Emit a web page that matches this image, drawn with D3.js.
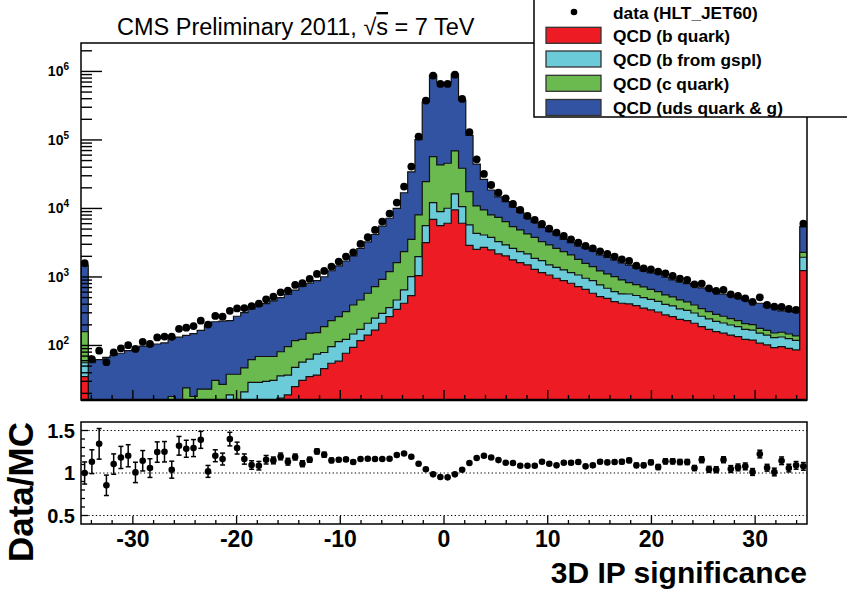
<!DOCTYPE html>
<html><head><meta charset="utf-8">
<script src="https://cdn.jsdelivr.net/npm/d3@7"></script>
<style>
body{margin:0;background:#fff}
svg{display:block}
text{font-family:"Liberation Sans",Arial,Helvetica,sans-serif}
</style>
</head><body>
<svg id="c" width="847" height="596"></svg>
<script>
// ---- binning of the histogram (3D IP significance) ----
const binLow = -35, binWidth = 0.7;

// ---- MC components (stacked), one value per bin ----
const bQuark = [35,
2,2,2,3,3,3,3,4,4,4,5,5,5,6,6,7,7,8,8,9,9,10,11,12,
13,15,17,19,25,31,35,37,46,55,59,77,94,118,142,168,211,264,337,413,534,1047,
3170,6950,5620,6080,9510,6080,
2900,2535,2710,2480,2166,2026,1771,1619,1497,1294,1156,1069,957,884,809,723,661,578,516,488,437,413,
404,381,352,330,308,279,264,241,230,211,188,172,159,151,142,135,123,120,108,102,93,96,91,86,
1236];
const bGspl = [21,
2,2,3,3,3,3,4,4,4,4,5,5,5,5,6,6,6,7,7,10,5,11,18,17,
17,16,19,18,23,26,28,38,33,41,55,46,53,54,69,82,84,93,124,233,478,935,
2450,5220,3380,3980,6790,4560,
2840,1805,1390,1313,1114,905,848,723,669,580,575,428,427,381,347,346,296,306,248,196,174,155,
160,155,148,142,133,120,114,100,96,87,79,72,66,62,57,53,49,48,43,40,37,37,35,33,
704];
const cQuark = [103,
3,3,3,4,4,4,4,4,5,5,5,8,4,13,6,10,10,16,12,19,24,26,33,40,
39,38,45,59,70,66,88,79,109,134,150,189,243,289,367,473,630,840,1159,1698,2536,6053,
19030,44930,34200,35640,52900,27960,
11880,6550,5410,4247,4150,3500,2811,2511,2079,1919,1549,1434,1235,1077,938,742,625,531,459,422,400,336,
262,237,215,189,170,147,133,121,106,92,78,68,60,54,48,42,36,33,27,24,22,23,21,19,
350];
const udsg = [1337,
49,55,59,62,67,74,77,86,86,92,94,109,118,116,131,143,174,191,199,192,229,254,281,308,
339,380,419,462,525,606,658,729,820,1003,1185,1397,1639,2144,2673,3446,4594,5999,8430,14596,30732,92865,
333350,825900,645800,646300,842800,343400,
98780,33500,17010,10560,7330,6120,4980,3907,2915,2457,1960,1649,1451,1198,1071,997,1050,989,869,821,745,694,
667,569,513,489,508,449,398,376,369,349,347,343,317,292,286,265,245,226,235,201,213,163,175,165,
3130];

// ---- data (HLT_JET60) ----
const dataCounts = [1585,
63,84,57,79,91,101,89,113,105,131,135,134,175,182,192,230,202,270,263,320,347,352,376,408,
472,516,597,632,764,809,935,1107,1225,1416,1675,1982,2291,3032,3797,4853,6424,8405,12170,20840,40830,111900,
375000,869000,657000,657000,897000,397000,
130000,52200,31900,22000,17000,14070,11630,9510,7780,6790,5940,5080,4440,3970,3548,3170,2837,2620,2370,2168,1982,1811,
1714,1463,1339,1294,1197,1131,1034,946,904,782,800,683,625,646,558,528,488,432,505,390,369,365,341,330,
6000];

// ---- Data/MC ratio panel ----
const ratio = [1.0,1.133,1.343,0.855,1.105,1.183,1.203,1.007,1.144,1.058,
1.246,1.25,1.039,1.32,1.285,1.293,1.39,1.019,1.203,1.164,
1.399,1.293,1.164,1.094,1.086,1.156,1.148,1.195,1.133,1.188,
1.109,1.156,1.254,1.215,1.148,1.156,1.16,1.129,1.164,1.168,
1.164,1.164,1.168,1.211,1.23,1.191,1.109,1.045,0.984,0.953,
0.949,0.984,1.039,1.117,1.176,1.203,1.183,1.152,1.121,1.117,
1.086,1.086,1.086,1.133,1.109,1.09,1.121,1.121,1.129,1.078,
1.09,1.133,1.125,1.129,1.133,1.148,1.09,1.09,1.125,1.07,
1.137,1.137,1.129,1.129,1.058,1.156,1.043,1.039,1.156,1.047,
1.066,1.078,1.012,1.223,1.062,1.012,1.144,1.058,1.09,1.078];
const ratioErr = [0.13,0.14,0.18,0.12,0.12,0.13,0.13,0.12,0.12,0.11,
0.12,0.12,0.1,0.11,0.1,0.1,0.1,0.07,0.07,0.07,
0.08,0.07,0.06,0.05,0.05,0.05,0.04,0.04,0.04,0.035,
0.035,0.03,0.03,0.03,0.025,0.02,0.02,0.02,0.015,0.015,
0.01,0.01,0.01,0.01,0.01,0.005,0.005,0.005,0.005,0.005,
0.005,0.005,0.005,0.005,0.005,0.01,0.01,0.01,0.01,0.01,
0.01,0.01,0.015,0.015,0.015,0.015,0.015,0.02,0.02,0.02,
0.02,0.02,0.02,0.02,0.025,0.025,0.025,0.025,0.025,0.03,
0.03,0.03,0.03,0.03,0.03,0.035,0.035,0.035,0.035,0.04,
0.04,0.04,0.04,0.045,0.04,0.045,0.045,0.045,0.045,0.045];

// ---- axes / labels ----
const xTicksMajor = [-30,-20,-10,0,10,20,30];
const yDecades = [2,3,4,5,6];
const ratioTicks = [0.5,1,1.5];
const ratioTickLabels = ["0.5","1","1.5"];
const legendLabels = ["data (HLT_JET60)","QCD (b quark)","QCD (b from gspl)","QCD (c quark)","QCD (uds quark & g)"];
const seriesColors = ["#000000","#ed1c24","#6ccbd9","#6bba4f","#3153a2"];

// ================= drawing =================
const svg = d3.select("#c");
const L = 81, R = 807, T = 43, B = 400, RT = 422, RB = 524;
const x = d3.scaleLinear().domain([-35,35]).range([L,R]);
const y = d3.scaleLog().domain([16,2.6e6]).range([B,T]).clamp(true);
const yr = d3.scaleLinear().domain([0.4,1.6]).range([RB,RT]);

const nBins = dataCounts.length;
const edges = d3.range(nBins+1).map(i => binLow + i*binWidth);
const centers = d3.range(nBins).map(i => binLow + (i+0.5)*binWidth);

svg.append("defs").append("clipPath").attr("id","mainclip")
  .append("rect").attr("x",L).attr("y",T).attr("width",R-L).attr("height",B-T);

// cumulative stacks
const comps = [bQuark,bGspl,cQuark,udsg];
const cum = [];
let acc = new Array(nBins).fill(0);
comps.forEach(c => { acc = acc.map((v,i)=>v+c[i]); cum.push(acc.slice()); });

const area = d3.area().curve(d3.curveStepAfter)
  .x(d=>x(d[0])).y0(B).y1(d=>y(d[1]));
const g = svg.append("g").attr("clip-path","url(#mainclip)");
for (let k = 3; k >= 0; k--) {
  const pts = edges.map((e,i)=>[e, cum[k][Math.min(i,nBins-1)]]);
  g.append("path").attr("d",area(pts))
    .attr("fill",seriesColors[k+1]).attr("stroke","#111").attr("stroke-width",1.2)
    .attr("stroke-linejoin","miter");
}
// data points
g.selectAll("circle.d").data(d3.range(nBins)).enter().append("circle")
  .attr("cx",i=>x(centers[i])).attr("cy",i=>y(dataCounts[i])).attr("r",3.9).attr("fill","#000");

// main frame
svg.append("rect").attr("x",L).attr("y",T).attr("width",R-L).attr("height",B-T)
  .attr("fill","none").attr("stroke","#000").attr("stroke-width",1.5);
svg.append("line").attr("x1",L).attr("x2",R).attr("y1",B).attr("y2",B).attr("stroke","#000").attr("stroke-width",2.5);

// main y ticks (log)
const yt = svg.append("g");
for (let e = 1; e <= 6; e++) {
  for (let m = 1; m <= 9; m++) {
    const v = m*Math.pow(10,e);
    if (v < 16 || v > 2.6e6) continue;
    const len = m===1 ? 21 : 11;
    yt.append("line").attr("x1",L).attr("x2",L+len).attr("y1",y(v)).attr("y2",y(v))
      .attr("stroke","#000").attr("stroke-width",1.4);
  }
}
yDecades.forEach(e=>{
  const t = yt.append("text").attr("x",69).attr("y",y(Math.pow(10,e))+5)
    .attr("text-anchor","end").attr("font-weight","bold").attr("font-size",14);
  t.append("tspan").text("10");
  t.append("tspan").attr("dy",-6).attr("font-size",10).text(e);
});
// main x ticks
for (let v = -34; v <= 34; v += 2) {
  const major = v % 10 === 0;
  svg.append("line").attr("x1",x(v)).attr("x2",x(v)).attr("y1",B).attr("y2",B-(major?10:5))
    .attr("stroke","#000").attr("stroke-width",1.4);
}

// title
const title = svg.append("text").attr("x",117).attr("y",35).attr("font-size",23.5).attr("fill","#000");
title.append("tspan").text("CMS Preliminary 2011, √");
title.append("tspan").style("text-decoration","overline").text("s");
title.append("tspan").text(" = 7 TeV");

// legend
const lg = svg.append("g");
lg.append("rect").attr("x",534).attr("y",-5).attr("width",330).attr("height",122)
  .attr("fill","#fff").attr("stroke","#000").attr("stroke-width",1.5);
const rowY = [12,35.3,59,83.3,107.5];
legendLabels.forEach((lab,i)=>{
  if (i===0) {
    lg.append("circle").attr("cx",574).attr("cy",rowY[i]).attr("r",3.3).attr("fill","#000");
  } else {
    lg.append("rect").attr("x",546).attr("y",rowY[i]-8).attr("width",55).attr("height",16)
      .attr("fill",seriesColors[i]).attr("stroke","#333").attr("stroke-width",1.3);
  }
  lg.append("text").attr("x",613).attr("y",rowY[i]+6.5).attr("font-size",17.3)
    .attr("font-weight","bold").text(lab);
});

// ratio panel
const rp = svg.append("g");
rp.append("rect").attr("x",L).attr("y",RT).attr("width",R-L).attr("height",RB-RT)
  .attr("fill","#fff").attr("stroke","#000").attr("stroke-width",1.5);
ratioTicks.forEach(v=>{
  rp.append("line").attr("x1",L).attr("x2",R).attr("y1",yr(v)).attr("y2",yr(v))
    .attr("stroke","#000").attr("stroke-width",1).attr("stroke-dasharray","1.3,2.4");
});
for (let k = 5; k <= 15; k++) {
  const v = k/10;
  const major = (k % 5 === 0);
  rp.append("line").attr("x1",L).attr("x2",L+(major?7:4)).attr("y1",yr(v)).attr("y2",yr(v))
    .attr("stroke","#000").attr("stroke-width",1.3);
}
ratioTicks.forEach((v,i)=>{
  rp.append("text").attr("x",75).attr("y",yr(v)+7).attr("text-anchor","end")
    .attr("font-weight","bold").attr("font-size",20).text(ratioTickLabels[i]);
});
for (let v = -34; v <= 34; v += 2) {
  const major = v % 10 === 0;
  rp.append("line").attr("x1",x(v)).attr("x2",x(v)).attr("y1",RB).attr("y2",RB-(major?8:4))
    .attr("stroke","#000").attr("stroke-width",1.3);
}
xTicksMajor.forEach(v=>{
  rp.append("text").attr("x",x(v)).attr("y",547).attr("text-anchor","middle")
    .attr("font-weight","bold").attr("font-size",23).text(v);
});
// ratio points
const rpts = rp.selectAll("g.pt").data(d3.range(nBins)).enter().append("g");
rpts.append("line").attr("x1",i=>x(centers[i])).attr("x2",i=>x(centers[i]))
  .attr("y1",i=>yr(ratio[i]-ratioErr[i])).attr("y2",i=>yr(ratio[i]+ratioErr[i]))
  .attr("stroke","#000").attr("stroke-width",1.5);
[-1,1].forEach(s=>{
  rpts.append("line").attr("x1",i=>x(centers[i])-2.5).attr("x2",i=>x(centers[i])+2.5)
    .attr("y1",i=>yr(ratio[i]+s*ratioErr[i])).attr("y2",i=>yr(ratio[i]+s*ratioErr[i]))
    .attr("stroke","#000").attr("stroke-width",1.5);
});
rpts.append("circle").attr("cx",i=>x(centers[i])).attr("cy",i=>yr(ratio[i])).attr("r",3.3).attr("fill","#000");

// axis titles
svg.append("text").attr("x",807).attr("y",583).attr("text-anchor","end")
  .attr("font-weight","bold").attr("font-size",30).text("3D IP significance");
svg.append("text").attr("transform","translate(33,422) rotate(-90)").attr("text-anchor","end")
  .attr("font-weight","bold").attr("font-size",35).text("Data/MC");
</script>
</body></html>
